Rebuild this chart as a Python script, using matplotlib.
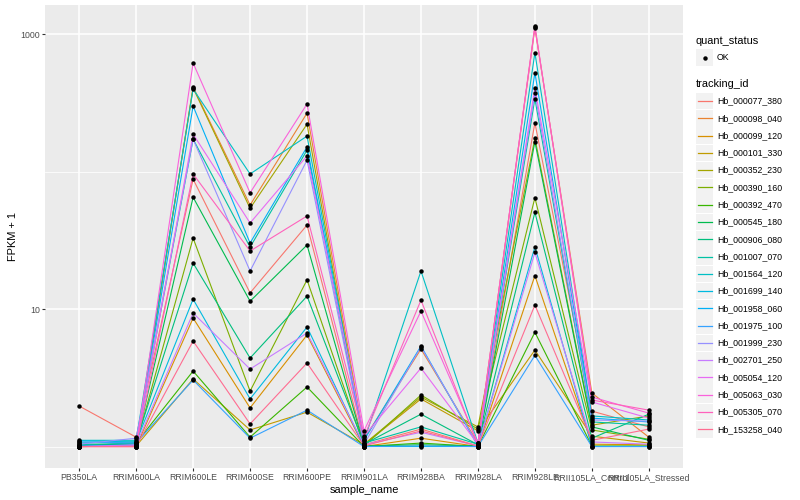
import matplotlib
matplotlib.use('Agg')
import matplotlib.pyplot as plt
import pandas as pd
from matplotlib.patches import Rectangle

plt.rcParams['font.family'] = ['Liberation Sans', 'DejaVu Sans']

samples = ['PB350LA', 'RRIM600LA', 'RRIM600LE', 'RRIM600SE', 'RRIM600PE', 'RRIM901LA',
           'RRIM928BA', 'RRIM928LA', 'RRIM928LE', 'RRII105LA_Control', 'RRII105LA_Stressed']

tracking_ids = ['Hb_000077_380', 'Hb_000098_040', 'Hb_000099_120', 'Hb_000101_330', 'Hb_000352_230',
                'Hb_000390_160', 'Hb_000392_470', 'Hb_000545_180', 'Hb_000906_080', 'Hb_001007_070',
                'Hb_001564_120', 'Hb_001699_140', 'Hb_001958_060', 'Hb_001975_100', 'Hb_001999_230',
                'Hb_002701_250', 'Hb_005054_120', 'Hb_005063_030', 'Hb_005305_070', 'Hb_153258_040']

colors = ['#F8766D', '#EA8331', '#D89000', '#C09B00', '#A3A500', '#7CAE00', '#39B600', '#00BB4E',
          '#00BF7D', '#00C1A3', '#00BFC4', '#00BAE0', '#00B0F6', '#35A2FF', '#9590FF', '#C77CFF',
          '#E76BF3', '#FA62DB', '#FF62BC', '#FF6C91']

# FPKM per sample, one value per tracking_id (same order as tracking_ids)
pb350la = [0.97, 0, 0, 0, 0, 0.01, 0.01, 0.03, 0.06, 0.03, 0.11, 0.10, 0.01, 0.08, 0.04, 0, 0, 0, 0, 0]
rrim600la = [0.17, 0.01, 0, 0.01, 0.03, 0.04, 0.06, 0.04, 0.08, 0.06, 0.11, 0.08, 0.03, 0.06, 0.15, 0.03, 0.01, 0, 0, 0]
rrim600le = [87, 411, 7.6, 2.1, 404, 31.8, 2.54, 64, 20.6, 171, 397, 10.8, 298, 2.05, 171, 8.35, 186, 614, 95, 4.85]
rrim600se = [12.1, 56, 0.91, 0.32, 53, 1.53, 0.17, 10.4, 3.4, 27.2, 95, 1.22, 29.2, 0.15, 17.9, 2.66, 41.2, 69, 25.4, 0.46]
rrim600pe = [39.8, 265, 5.47, 0.78, 220, 15.3, 1.71, 28.2, 11.4, 142, 180, 6.4, 150, 0.84, 120, 5.69, 129, 309, 46.5, 3.05]
rrim901la = [0.03, 0.13, 0, 0.03, 0.04, 0.01, 0, 0.01, 0.04, 0.06, 0.10, 0, 0.11, 0, 0.04, 0.03, 0.19, 0.30, 0.17, 0.01]
rrim928ba = [0.34, 4.12, 0.15, 1.22, 1.29, 1.37, 0.06, 0.03, 0.72, 0.39, 17.9, 0, 4.38, 0.01, 4.30, 0.27, 2.72, 8.67, 10.6, 0.30]
rrim928la = [0.01, 0.06, 0, 0.30, 0.39, 0.34, 0, 0.01, 0.03, 0.04, 0.06, 0, 0.01, 0, 0.03, 0.01, 0.04, 0.06, 0.03, 0.01]
rrim928le = [225, 1105, 16.5, 4.03, 174, 63.5, 5.78, 164, 49.5, 337, 730, 27.4, 522, 3.6, 373, 24.8, 402, 1124, 1142, 9.7]
rrii105la_control = [0.81, 1.45, 0.04, 0.19, 0.43, 0.32, 0.01, 0.39, 0.15, 0.51, 0.67, 0, 0.61, 0, 0.56, 0.08, 1.11, 1.29, 1.18, 0.11]
rrii105la_stressed = [0.39, 0.17, 0.03, 0.06, 0.67, 0.13, 0.01, 0.11, 0.72, 0.43, 0.56, 0, 0.51, 0, 0.53, 0.04, 0.61, 0.75, 0.84, 0.34]

fpkm = pd.DataFrame({
    'PB350LA': pb350la, 'RRIM600LA': rrim600la, 'RRIM600LE': rrim600le, 'RRIM600SE': rrim600se,
    'RRIM600PE': rrim600pe, 'RRIM901LA': rrim901la, 'RRIM928BA': rrim928ba, 'RRIM928LA': rrim928la,
    'RRIM928LE': rrim928le, 'RRII105LA_Control': rrii105la_control, 'RRII105LA_Stressed': rrii105la_stressed,
}, index=tracking_ids)[samples]

fig = plt.figure(figsize=(8, 5), dpi=100)
ax = fig.add_axes([45 / 800, 32 / 500, 638 / 800, 463 / 500])
ax.set_facecolor('#EBEBEB')
for side in ax.spines.values():
    side.set_visible(False)

xs = range(len(samples))
for tid, col in zip(tracking_ids, colors):
    ax.plot(xs, fpkm.loc[tid] + 1, color=col, lw=0.8, zorder=2)
for tid in tracking_ids:
    ax.plot(xs, fpkm.loc[tid] + 1, 'o', color='black', ms=3.2, mew=0, zorder=3)

ax.set_yscale('log')
ax.set_ylim(10 ** -0.156, 10 ** 3.211)
ax.set_xlim(-0.6, len(samples) - 0.4)
ax.set_yticks([10, 1000])
ax.set_yticklabels(['10', '1000'])
ax.set_yticks([1, 100], minor=True)
ax.set_yticklabels([], minor=True)
ax.set_xticks(list(xs))
ax.set_xticklabels(samples)
ax.grid(True, which='major', color='white', lw=1.1, zorder=0)
ax.grid(True, which='minor', axis='y', color='white', lw=0.55, zorder=0)
ax.set_axisbelow(True)
ax.tick_params(which='major', length=2, width=0.8, color='#333333', labelsize=6.3,
               labelcolor='#4D4D4D', pad=1.5)
ax.tick_params(which='minor', length=0)
ax.set_xlabel('sample_name', fontsize=7.9, labelpad=2)
ax.set_ylabel('FPKM + 1', fontsize=7.9, labelpad=1.5)

# legend drawn by hand in pixel space
lg = fig.add_axes([0, 0, 1, 1], facecolor='none')
lg.set_xlim(0, 800)
lg.set_ylim(500, 0)
lg.axis('off')
lg.text(696, 41, 'quant_status', fontsize=7.9, va='center', ha='left')
lg.add_patch(Rectangle((696, 49), 17, 17, color='#F2F2F2', lw=0))
lg.plot([704.5], [57.5], 'o', color='black', ms=3.2, mew=0)
lg.text(717, 57.5, 'OK', fontsize=6.3, va='center', ha='left')
lg.text(696, 84, 'tracking_id', fontsize=7.9, va='center', ha='left')
for i, (tid, col) in enumerate(zip(tracking_ids, colors)):
    yc = 101 + i * 17.28
    lg.add_patch(Rectangle((696, yc - 8.3), 17, 16.6, color='#F2F2F2', lw=0))
    lg.plot([698, 712], [yc, yc], color=col, lw=0.9)
    lg.text(717, yc, tid, fontsize=6.3, va='center', ha='left')

fig.savefig('out.png', dpi=100)
